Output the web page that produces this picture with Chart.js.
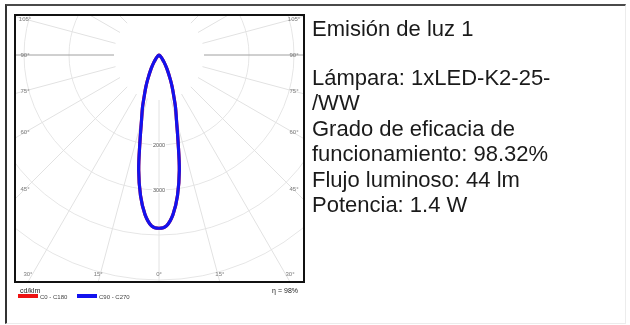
<!DOCTYPE html>
<html>
<head>
<meta charset="utf-8">
<script src="https://cdn.jsdelivr.net/npm/chart.js@4.4.1/dist/chart.umd.min.js"></script>
<style>
  html, body { margin: 0; padding: 0; background: #fff; }
  body { width: 630px; height: 325px; position: relative; overflow: hidden; font-family: "Liberation Sans", Arial, sans-serif; }
  #sheet { position: absolute; left: 5px; top: 4px; width: 618px; height: 317px;
           border-top: 2px solid #4a4a4a; border-left: 2px solid #333;
           border-right: 1px solid #ececec; border-bottom: 1px solid #ececec; }
  #plot { position: absolute; left: 0; top: 0; }
  .info { position: absolute; left: 312px; font-size: 22px; line-height: 25.5px; color: #1a1a1a; white-space: nowrap; }
</style>
</head>
<body>
<div id="sheet"></div>
<canvas id="plot" width="320" height="310"></canvas>
<div class="info" style="top:15.6px">Emisión de luz 1</div>
<div class="info" style="top:64.6px">Lámpara: 1xLED-K2-25-<br>/WW<br>Grado de eficacia de<br>funcionamiento: 98.32%<br>Flujo luminoso: 44 lm<br>Potencia: 1.4 W</div>
<script>
// luminous intensity in cd/klm
const gammaDeg = [0, 2.5, 5, 7.5, 10, 12.5, 15, 17.5, 20, 22.5, 25, 30, 35, 40, 45, 50, 60, 70, 80, 90];
const c90c270 = [3850, 3800, 3560, 3150, 2600, 1950, 1500, 1220, 950, 760, 590, 350, 200, 110, 60, 30, 10, 3, 1, 0];
const c0c180  = [3850, 3800, 3560, 3150, 2600, 1950, 1500, 1220, 950, 760, 590, 350, 200, 110, 60, 30, 10, 3, 1, 0];

const ringValues = [2000, 3000, 4000, 5000, 6000, 7000];
const ringLabels = [2000, 3000];
const angleTicks = [105, 90, 75, 60, 45, 30, 15, 0];
const seriesNames = ["C0 - C180", "C90 - C270"];
const seriesColors = ["#ee1111", "#1212ee"];
const unitLabel = "cd/klm";
const etaLabel = "η = 98%";

// turn a half-plane curve into x/y points (left half then right half)
function toPoints(vals) {
  const pts = [];
  for (let i = gammaDeg.length - 1; i >= 0; i--) {
    const g = gammaDeg[i] * Math.PI / 180;
    pts.push({ x: -vals[i] * Math.sin(g), y: -vals[i] * Math.cos(g) });
  }
  for (let i = 1; i < gammaDeg.length; i++) {
    const g = gammaDeg[i] * Math.PI / 180;
    pts.push({ x: vals[i] * Math.sin(g), y: -vals[i] * Math.cos(g) });
  }
  return pts;
}

const polarGrid = {
  id: "polarGrid",
  beforeDatasetsDraw(chart) {
    const { ctx, chartArea: a, scales: { x, y } } = chart;
    const cx = x.getPixelForValue(0), cy = y.getPixelForValue(0);
    const k = x.getPixelForValue(1000) - cx;
    ctx.save();
    ctx.beginPath();
    ctx.rect(a.left, a.top, a.right - a.left, a.bottom - a.top);
    ctx.clip();
    ctx.lineWidth = 1;
    ctx.strokeStyle = "#e6e6e6";
    ringValues.forEach(v => {
      ctx.beginPath();
      ctx.arc(cx, cy, v / 1000 * k, 0, Math.PI * 2);
      ctx.stroke();
    });
    for (let d = 0; d < 360; d += 15) {
      const g = d * Math.PI / 180;
      const r0 = k, r1 = 8 * k;
      ctx.strokeStyle = (d === 90 || d === 270) ? "#a0a0a0" : "#e2e2e2";
      ctx.beginPath();
      ctx.moveTo(cx + r0 * Math.sin(g), cy + r0 * Math.cos(g));
      ctx.lineTo(cx + r1 * Math.sin(g), cy + r1 * Math.cos(g));
      ctx.stroke();
    }
    ctx.restore();
  },
  afterDatasetsDraw(chart) {
    const { ctx, chartArea: a, scales: { x, y } } = chart;
    const cx = x.getPixelForValue(0), cy = y.getPixelForValue(0);
    const k = x.getPixelForValue(1000) - cx;
    ctx.save();
    // ring values on the 0° axis
    ctx.font = "5.5px 'Liberation Sans', Arial";
    ctx.textAlign = "center";
    ctx.textBaseline = "middle";
    ringLabels.forEach(v => {
      const py = cy + v / 1000 * k;
      const w = ctx.measureText(String(v)).width + 2;
      ctx.fillStyle = "#fff";
      ctx.fillRect(cx - w / 2, py - 3, w, 6);
      ctx.fillStyle = "#555";
      ctx.fillText(String(v), cx, py);
    });
    // angle labels
    ctx.font = "6px 'Liberation Sans', Arial";
    ctx.fillStyle = "#7a7a7a";
    const colDx = cx - (a.left + 10);
    angleTicks.forEach(d => {
      const g = d * Math.PI / 180;
      if (d >= 45) {
        const py = cy + colDx * Math.cos(g) / Math.sin(g);
        ctx.fillText(d + "°", a.left + 10, py);
        ctx.fillText(d + "°", a.right - 10, py);
      } else {
        const dx = (a.bottom - cy) * Math.tan(g);
        ctx.fillText(d + "°", cx - dx, a.bottom - 8);
        if (d > 0) ctx.fillText(d + "°", cx + dx, a.bottom - 8);
      }
    });
    // frame
    ctx.strokeStyle = "#111";
    ctx.lineWidth = 2;
    ctx.strokeRect(a.left, a.top, a.right - a.left, a.bottom - a.top);
    // legend below the frame
    ctx.textAlign = "left";
    ctx.fillStyle = "#222";
    ctx.font = "7px 'Liberation Sans', Arial";
    ctx.fillText(unitLabel, a.left + 5, a.bottom + 9);
    ctx.font = "6px 'Liberation Sans', Arial";
    let lx = a.left + 3;
    seriesNames.forEach((name, i) => {
      ctx.fillStyle = seriesColors[i];
      ctx.fillRect(lx, a.bottom + 12, 20, 4);
      ctx.fillStyle = "#444";
      ctx.fillText(name, lx + 22, a.bottom + 15);
      lx += 59;
    });
    ctx.textAlign = "right";
    ctx.font = "7px 'Liberation Sans', Arial";
    ctx.fillStyle = "#222";
    ctx.fillText(etaLabel, a.right - 6, a.bottom + 9);
    ctx.restore();
  }
};

const ctx = document.getElementById("plot").getContext("2d");
new Chart(ctx, {
  type: "scatter",
  data: {
    datasets: [
      {
        label: seriesNames[1],
        data: toPoints(c90c270),
        showLine: true,
        borderColor: seriesColors[1],
        borderWidth: 3.2,
        pointRadius: 0,
        tension: 0.35,
      },
      {
        label: seriesNames[0],
        data: toPoints(c0c180),
        showLine: true,
        borderColor: seriesColors[0],
        borderWidth: 3.2,
        pointRadius: 0,
        tension: 0.35,
      },
    ],
  },
  options: {
    responsive: false,
    animation: false,
    layout: { padding: { left: 15, top: 15, right: 16, bottom: 28 } },
    plugins: { legend: { display: false }, tooltip: { enabled: false } },
    scales: {
      x: { type: "linear", min: -3200, max: 3222, display: false },
      y: { type: "linear", min: -5044, max: 889, display: false },
    },
  },
  plugins: [polarGrid],
});
</script>
</body>
</html>
